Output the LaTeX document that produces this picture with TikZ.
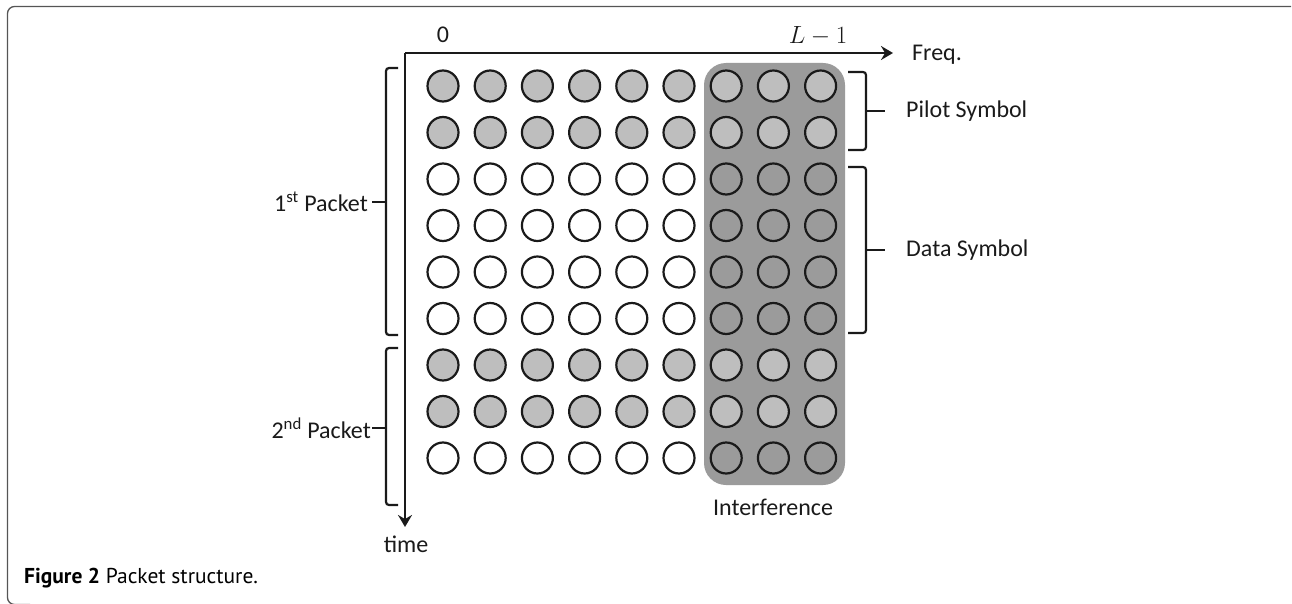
\documentclass[tikz,border=0pt]{standalone}
\usepackage{fontspec}
\setmainfont{Carlito}
\newfontfamily\capfont{PT Sans}
\usetikzlibrary{arrows.meta}
\definecolor{boxgray}{HTML}{9B9B9B}
\definecolor{lightgray}{HTML}{BEBEBE}
\definecolor{ink}{HTML}{1A1A1A}
\definecolor{framegray}{HTML}{555555}
\tikzset{
  dot/.style={circle, draw=ink, line width=2.2pt, minimum size=31pt, inner sep=0pt},
  pilot/.style={dot, fill=lightgray},
  datadot/.style={dot, fill=white},
  idatadot/.style={dot, fill=boxgray},
  axis/.style={draw=ink, line width=2.4pt, -{Stealth[length=12pt,width=14pt,inset=4pt]}},
  bracket/.style={draw=ink, line width=2.2pt, rounded corners=3pt},
  lab/.style={font=\fontsize{24}{28}\selectfont, text=ink, inner sep=0pt},
}
\begin{document}
\begin{tikzpicture}[x=1pt, y=-1pt]
\useasboundingbox (0,0) rectangle (1292,604);
% outer frame
\draw[framegray, line width=1.3pt, rounded corners=7pt] (1291,6.5) -- (7.5,6.5) -- (7.5,604.5) -- (30,604.5);
% interference box
\node[fill=boxgray, rounded corners=22pt, minimum width=141pt, minimum height=422pt, inner sep=0pt] (intbox) at (774.5,274) {};
% circles
\foreach \r in {1,...,9}{
  \foreach \c in {1,...,9}{
    \pgfmathsetmacro{\xx}{443+47.2*(\c-1)}
    \pgfmathsetmacro{\yy}{86+46.5*(\r-1)}
    \pgfmathtruncatemacro{\ispilot}{(\r==1)||(\r==2)||(\r==7)||(\r==8)}
    \ifnum\ispilot=1
      \node[pilot] (c-\r-\c) at (\xx,\yy) {};
    \else
      \ifnum\c>6
        \node[idatadot] (c-\r-\c) at (\xx,\yy) {};
      \else
        \node[datadot] (c-\r-\c) at (\xx,\yy) {};
      \fi
    \fi
  }
}
% axes
\coordinate (origin) at (405,53);
\coordinate (freqend) at (893,53);
\coordinate (timeend) at (405,527);
\draw[axis] (origin) -- (freqend);
\draw[axis] (origin) -- (timeend);
\node[lab, anchor=west] (freq) at (912,55) {Freq.};
\node[lab] (time) at (406,544) {time};
\node[lab] (zero) at (443,35) {0};
\node[lab] (lm1) at (818,36) {$L-1$};
\node[lab] (interf) at (773,507) {Interference};
% right brackets
\coordinate (pt) at (848,72);
\coordinate (pb) at (848,150);
\coordinate (ptip) at (885,111);
\draw[bracket] (pt) -- (866,72) -- (866,150) -- (pb);
\draw[bracket] (866,111) -- (ptip);
\node[lab, anchor=west] (pilotlab) at (906,111) {Pilot Symbol};
\coordinate (dt) at (848,167);
\coordinate (db) at (848,333);
\coordinate (dtip) at (885,250);
\draw[bracket] (dt) -- (866,167) -- (866,333) -- (db);
\draw[bracket] (866,250) -- (dtip);
\node[lab, anchor=west] (datalab) at (906,250) {Data Symbol};
% left brackets
\coordinate (at) at (398,68);
\coordinate (ab) at (398,335);
\coordinate (atip) at (372,202);
\draw[bracket] (at) -- (386,68) -- (386,335) -- (ab);
\draw[bracket] (386,202) -- (atip);
\node[lab, anchor=east] (first) at (368,202) {1\textsuperscript{st} Packet};
\coordinate (bt) at (398,348);
\coordinate (bb) at (398,505);
\coordinate (btip) at (372,428);
\draw[bracket] (bt) -- (386,348) -- (386,505) -- (bb);
\draw[bracket] (386,428) -- (btip);
\node[lab, anchor=east] (second) at (371,428) {2\textsuperscript{nd} Packet};
% caption
\node[anchor=west, inner sep=0pt, font=\capfont\fontsize{21.5}{25}\selectfont] (caption) at (24,578) {\textbf{Figure 2} Packet structure.};
\end{tikzpicture}
\end{document}
